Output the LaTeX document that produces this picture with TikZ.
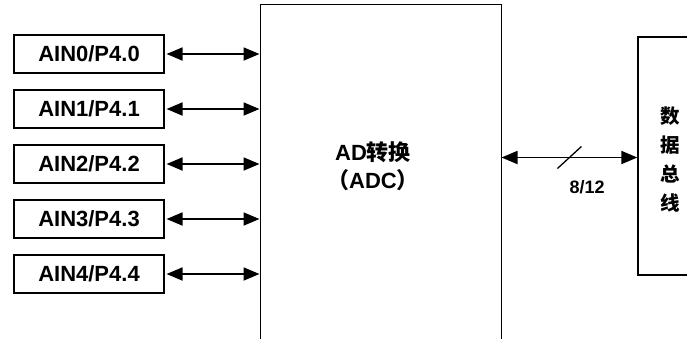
\documentclass[tikz,border=0pt]{standalone}
\usepackage{fontspec}
\setmainfont{Liberation Sans}
\newfontfamily\cjk{Noto Sans CJK SC}
\usetikzlibrary{arrows.meta, positioning}
\tikzset{
  inbox/.style  = {draw=black, line width=1.6pt, minimum width=150.5pt, minimum height=38.5pt,
                   inner sep=0pt, font=\fontsize{22}{24}\selectfont\bfseries},
  adcbox/.style = {draw=black, line width=1pt, minimum width=241pt, minimum height=336pt,
                   inner sep=0pt},
  busbox/.style = {draw=black, line width=1.3pt, minimum width=65pt, minimum height=238pt,
                   inner sep=0pt},
  boxtext/.style= {align=center, inner sep=0pt, font=\fontsize{22}{28}\selectfont\bfseries},
  bustext/.style= {align=center, inner sep=0pt, font=\fontsize{19.5}{29}\selectfont\cjk\bfseries},
  biarrow/.style= {{Triangle[length=16pt, width=13pt]}-{Triangle[length=16pt, width=13pt]},
                   line width=1.8pt, draw=black},
  buslab/.style = {font=\fontsize{18}{20}\selectfont\bfseries, inner sep=0pt},
}
\begin{document}
\begin{tikzpicture}[x=1pt, y=1pt]
\clip (0,0) rectangle (687,-338);
\node[inbox]                      (ain0) at (89,-54) {AIN0/P4.0};
\node[inbox, below=14.9pt of ain0] (ain1) {AIN1/P4.1};
\node[inbox, below=14.9pt of ain1] (ain2) {AIN2/P4.2};
\node[inbox, below=14.9pt of ain2] (ain3) {AIN3/P4.3};
\node[inbox, below=14.9pt of ain3] (ain4) {AIN4/P4.4};

\node[adcbox] (adc) at (380.5,-172) {};
\node[boxtext] (adclab) at (373,-166) {AD{\cjk 转换}\\{\cjk （}ADC{\cjk ）}};

\node[busbox] (dbus) at (670.5,-156) {};
\node[bustext] (dbuslab) at (670.5,-160) {数\\据\\总\\线};
\coordinate (busy) at (0,-157.5);

\draw[biarrow] ([xshift=1.5pt]ain0.east) -- (ain0.east -| adc.west);
\draw[biarrow] ([xshift=1.5pt]ain1.east) -- (ain1.east -| adc.west);
\draw[biarrow] ([xshift=1.5pt]ain2.east) -- (ain2.east -| adc.west);
\draw[biarrow] ([xshift=1.5pt]ain3.east) -- (ain3.east -| adc.west);
\draw[biarrow] ([xshift=1.5pt]ain4.east) -- (ain4.east -| adc.west);

\draw[biarrow] (adc.east |- busy) -- (dbus.west |- busy)
  coordinate[pos=0.5] (slash)
  node[buslab, pos=0.63, yshift=-29.5pt] (width) {8/12};
\draw[line width=1.3pt] ([shift={(-12,-11)}]slash) -- ([shift={(12,11)}]slash);
\end{tikzpicture}
\end{document}
